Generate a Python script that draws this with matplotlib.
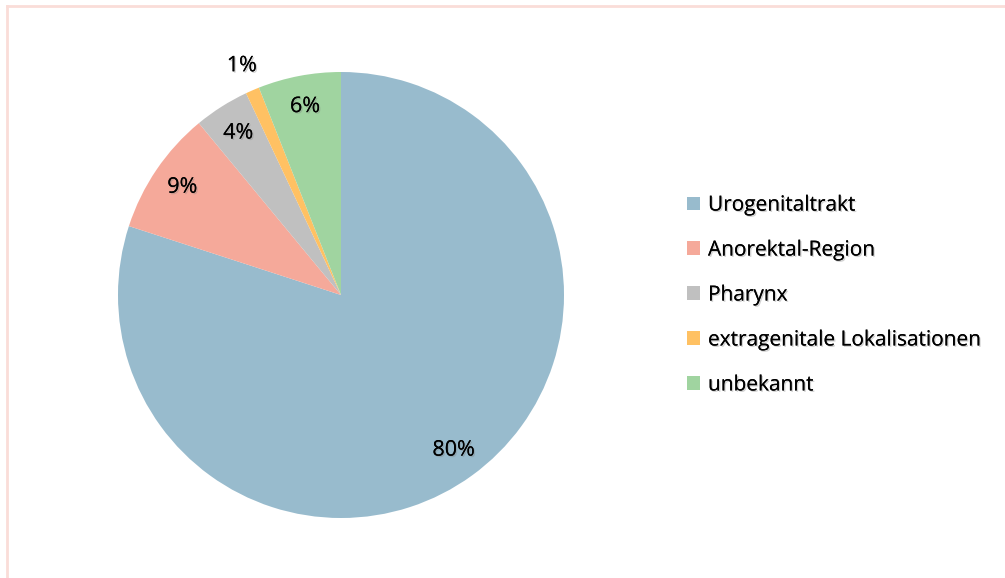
import matplotlib.pyplot as plt
import matplotlib.patheffects as pe
import numpy as np

plt.rcParams['font.family'] = ['Open Sans', 'DejaVu Sans']

# Daten
labels = ['Urogenitaltrakt', 'Anorektal-Region', 'Pharynx',
          'extragenitale Lokalisationen', 'unbekannt']
werte = [80, 9, 4, 1, 6]
farben = ['#98BBCD', '#F5A99A', '#C0C0C0', '#FFC163', '#A0D4A0']

W, H = 1005, 578
fig = plt.figure(figsize=(W / 100, H / 100), dpi=100)

# Rahmen (nur oben und links sichtbar)
fig.add_artist(plt.Line2D([7 / W, 1], [1 - 6 / H, 1 - 6 / H], color='#FADDD8', lw=2))
fig.add_artist(plt.Line2D([7 / W, 7 / W], [0, 1 - 6 / H], color='#FADDD8', lw=2))

cx, cy, r = 341, 295, 223
ax = fig.add_axes([(cx - r) / W, (H - cy - r) / H, 2 * r / W, 2 * r / H])

schatten = [pe.withSimplePatchShadow(offset=(1, -1), shadow_rgbFace='gray', alpha=0.35), pe.Normal()]

wedges, texts, autotexts = ax.pie(werte, colors=farben, startangle=90, counterclock=False,
                                  autopct='%1.0f%%', pctdistance=0.86,
                                  textprops={'fontsize': 15.5, 'color': 'black'})
for t in autotexts:
    t.set_path_effects(schatten)

# 1% Beschriftung außerhalb
w = wedges[3]
ang = np.deg2rad((w.theta1 + w.theta2) / 2)
autotexts[3].set_position((1.12 * np.cos(ang), 1.12 * np.sin(ang)))

ax.set_xlim(-1, 1)
ax.set_ylim(-1, 1)
ax.set_aspect('equal')

leg = fig.legend(wedges, labels, loc='center left', bbox_to_anchor=(668 / W, 1 - 295 / H),
                 frameon=False, fontsize=15, labelspacing=1.15, handlelength=0.62,
                 handleheight=0.62, handletextpad=0.4)
for t in leg.get_texts():
    t.set_path_effects(schatten)

fig.savefig('out.png', dpi=100)
